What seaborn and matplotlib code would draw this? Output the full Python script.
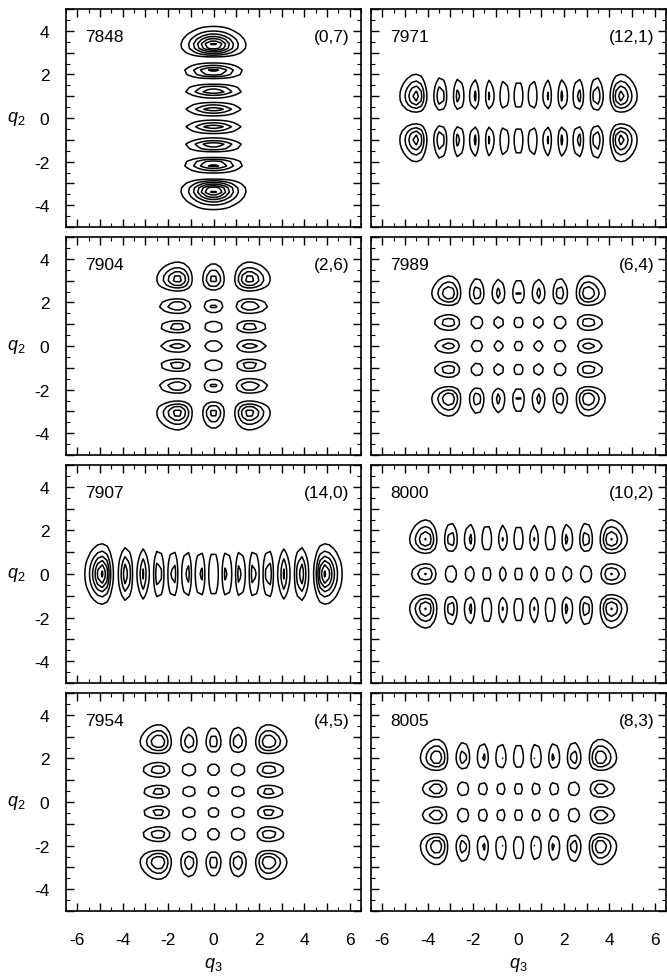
import numpy as np
import pandas as pd
import matplotlib
matplotlib.use("Agg")
import matplotlib.pyplot as plt
from matplotlib.ticker import MultipleLocator, FuncFormatter
import seaborn as sns

# State index and oscillator quantum numbers (n3, n2) for each panel, row by row
state_ids = [7848, 7971, 7904, 7989, 7907, 8000, 7954, 8005]
n3_values = [0, 12, 2, 6, 14, 10, 4, 8]
n2_values = [7, 1, 6, 4, 0, 2, 5, 3]

# Probability-density contour levels
contour_levels = [0.022, 0.05, 0.077, 0.102, 0.125, 0.145, 0.163, 0.18, 0.2]

states = pd.DataFrame({"state": state_ids, "n3": n3_values, "n2": n2_values})

sns.set_theme(style="ticks")
plt.rcParams["font.family"] = ["Liberation Sans", "DejaVu Sans"]
plt.rcParams["mathtext.fontset"] = "custom"
plt.rcParams["mathtext.it"] = "Liberation Sans:italic"
plt.rcParams["mathtext.rm"] = "Liberation Sans"
for key in ["text.color", "axes.labelcolor", "xtick.color", "ytick.color", "axes.edgecolor"]:
    plt.rcParams[key] = "black"


def hermite_function(n, x):
    """Normalised harmonic-oscillator eigenfunction psi_n(x)."""
    p0 = np.pi ** -0.25 * np.exp(-x ** 2 / 2)
    if n == 0:
        return p0
    p1 = np.sqrt(2.0) * x * p0
    for k in range(1, n):
        p0, p1 = p1, np.sqrt(2.0 / (k + 1)) * x * p1 - np.sqrt(k / (k + 1)) * p0
    return p1


q3 = np.arange(-6.5, 6.51, 0.2)
q2 = np.arange(-5.0, 5.01, 0.2)
Q3, Q2 = np.meshgrid(q3, q2)

even_only = FuncFormatter(lambda v, pos: f"{v:.0f}" if round(v) % 2 == 0 else "")

W, H = 667, 978
fig = plt.figure(figsize=(W / 100, H / 100), dpi=100)
col_left = [66, 371]
ax_w = 295
ax_h = 218
row_top = [10, 238, 466, 694]

for i, row in states.iterrows():
    r, c = divmod(i, 2)
    ax = fig.add_axes([col_left[c] / W, (H - row_top[r] - ax_h) / H, ax_w / W, ax_h / H])
    density = (hermite_function(row.n3, Q3) ** 2) * (hermite_function(row.n2, Q2) ** 2)
    ax.contour(Q3, Q2, density, levels=contour_levels, colors="black", linewidths=1.1)
    ax.set_xlim(-6.5, 6.5)
    ax.set_ylim(-5, 5)
    for axis in (ax.xaxis, ax.yaxis):
        axis.set_major_locator(MultipleLocator(1))
        axis.set_minor_locator(MultipleLocator(0.5))
        axis.set_major_formatter(even_only)
    ax.tick_params(which="both", direction="in", top=True, right=True)
    ax.tick_params(which="major", length=5.5, width=1.0, labelsize=12.5, pad=12)
    ax.tick_params(which="minor", length=3, width=0.8)
    for s in ax.spines.values():
        s.set_linewidth(1.2)
    ax.text(0.065, 0.875, str(row.state), transform=ax.transAxes, fontsize=12.5,
            ha="left", va="center")
    ax.text(0.96, 0.875, f"({row.n3},{row.n2})", transform=ax.transAxes, fontsize=12.5,
            ha="right", va="center")
    if c == 0:
        ax.set_ylabel("$q_2$", rotation=0, fontsize=13, va="center")
        ax.yaxis.set_label_coords(-0.17, 0.5)
    else:
        ax.tick_params(axis="y", which="both", labelleft=False)
    if r == 3:
        ax.set_xlabel("$q_3$", fontsize=13, labelpad=6)
        ax.tick_params(axis="x", which="major", pad=15)
    else:
        ax.tick_params(axis="x", which="both", labelbottom=False)

fig.savefig("out.png", dpi=100, facecolor="white")
